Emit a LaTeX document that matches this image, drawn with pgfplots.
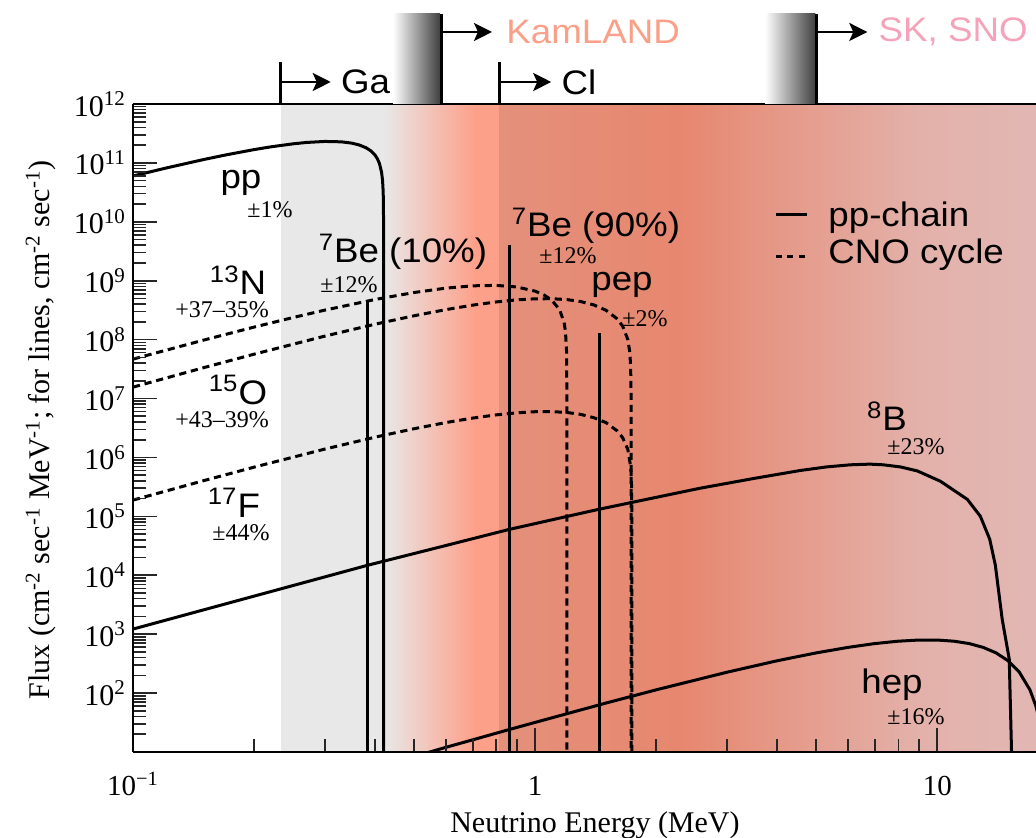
\documentclass[border=0pt]{standalone}
\usepackage{fontspec}
\setmainfont{Liberation Serif}
\newfontfamily\lsans{Liberation Sans}[FakeStretch=1.08]
\usepackage{pgfplots}
\pgfplotsset{compat=1.18}
\usetikzlibrary{arrows.meta,calc}

\definecolor{gabg}{HTML}{E8E8E8}
\definecolor{salmonA}{HTML}{FDA08A}
\definecolor{clA}{HTML}{E4907B}
\definecolor{clB}{HTML}{E7876F}
\definecolor{clC}{HTML}{E3B1AA}
\definecolor{clD}{HTML}{E2B7B3}
\definecolor{kamcol}{HTML}{FBA088}
\definecolor{skcol}{HTML}{F5A3BA}

\newcommand{\lab}{\lsans\fontsize{17}{20}\selectfont}
\newcommand{\err}{\fontsize{12}{14}\selectfont}
\newcommand{\tkx}{\fontsize{14.5}{17}\selectfont}
\newcommand{\tky}{\fontsize{15}{18}\selectfont}

\tikzset{
  spec/.style={black, line width=1.5pt},
  cno/.style={black, line width=1.5pt, dash pattern=on 3.6pt off 2.4pt},
  thr/.style={-{Stealth[length=9pt,width=9pt,inset=2pt]}, line width=1.2pt},
}

\begin{document}
\begin{tikzpicture}
\begin{axis}[
  name=ax,
  scale only axis, width=451.5pt, height=324pt,
  xmode=log, ymode=log,
  xmin=0.1, xmax=17.6, ymin=10, ymax=1e12,
  axis x line*=bottom, axis y line*=left,
  axis line style={line width=1.2pt},
  axis on top,
  tick align=inside,
  major tick length=12pt, minor tick length=6.5pt,
  every tick/.style={line width=0.8pt, black!85},
  xtick={0.1,1,10},
  xticklabels={{\tkx 10\textsuperscript{−1}},{\tkx 1},{\tkx 10}},
  minor xtick={0.2,0.3,0.4,0.5,0.6,0.7,0.8,0.9,2,3,4,5,6,7,8,9},
  ytick={1e2,1e3,1e4,1e5,1e6,1e7,1e8,1e9,1e10,1e11,1e12},
  yticklabels={{\tky 10\textsuperscript{2}},{\tky 10\textsuperscript{3}},{\tky 10\textsuperscript{4}},{\tky 10\textsuperscript{5}},{\tky 10\textsuperscript{6}},{\tky 10\textsuperscript{7}},{\tky 10\textsuperscript{8}},{\tky 10\textsuperscript{9}},{\tky 10\textsuperscript{10}},{\tky 10\textsuperscript{11}},{\tky 10\textsuperscript{12}}},
  minor ytick={2e1,3e1,4e1,5e1,6e1,7e1,8e1,9e1,
    2e2,3e2,4e2,5e2,6e2,7e2,8e2,9e2,
    2e3,3e3,4e3,5e3,6e3,7e3,8e3,9e3,
    2e4,3e4,4e4,5e4,6e4,7e4,8e4,9e4,
    2e5,3e5,4e5,5e5,6e5,7e5,8e5,9e5,
    2e6,3e6,4e6,5e6,6e6,7e6,8e6,9e6,
    2e7,3e7,4e7,5e7,6e7,7e7,8e7,9e7,
    2e8,3e8,4e8,5e8,6e8,7e8,8e8,9e8,
    2e9,3e9,4e9,5e9,6e9,7e9,8e9,9e9,
    2e10,3e10,4e10,5e10,6e10,7e10,8e10,9e10,
    2e11,3e11,4e11,5e11,6e11,7e11,8e11,9e11},
  xticklabel style={anchor=base, yshift=-22pt},
  xlabel={Neutrino Energy (MeV)},
  xlabel style={at={(axis description cs:0.5116,-0.1127)}, anchor=center, font=\fontsize{15}{18}\selectfont},
  ylabel={Flux (cm\textsuperscript{-2} sec\textsuperscript{-1} MeV\textsuperscript{-1}; for lines, cm\textsuperscript{-2} sec\textsuperscript{-1})},
  ylabel style={at={(axis description cs:-0.1019,0.497)}, anchor=center, font=\fontsize{15}{18}\selectfont},
]

% detector threshold bands
\fill[gabg] (axis cs:0.233,10) rectangle (axis cs:0.42,1e12);
\shade[left color=gabg, right color=salmonA] (axis cs:0.42,10) rectangle (axis cs:0.709,1e12);
\fill[salmonA] (axis cs:0.708,10) rectangle (axis cs:0.815,1e12);
\shade[left color=clA, right color=clB] (axis cs:0.814,10) rectangle (axis cs:2.29,1e12);
\shade[left color=clB, right color=clC] (axis cs:2.289,10) rectangle (axis cs:9.0,1e12);
\shade[left color=clC, right color=clD] (axis cs:8.99,10) rectangle (axis cs:17.6,1e12);

% pp chain continua
\addplot[spec] coordinates {(0.1,5.99e10) (0.12,8.09e10) (0.15,1.142e11) (0.17,1.364e11) (0.2,1.681e11) (0.22,1.871e11) (0.25,2.107e11) (0.27,2.223e11) (0.3,2.313e11) (0.33,2.278e11) (0.35,2.165e11) (0.365,2.019e11) (0.38,1.804e11) (0.39,1.608e11) (0.4,1.350e11) (0.405,1.184e11) (0.41,9.79e10) (0.415,7.00e10) (0.4175,4.98e10) (0.419,3.16e10) (0.4199,1.0e10) (0.42,1)};
\addplot[spec] coordinates {(0.1,1220) (0.2,4420) (0.3836,1.48e4) (0.6,3.2e4) (0.862,6.0e4) (1.442,1.32e5) (2.57,3.0e5) (3.5,4.4e5) (4.56,6.0e5) (5.3,6.9e5) (6.08,7.5e5) (6.8,7.7e5) (7.34,7.5e5) (8.1,6.9e5) (8.92,5.9e5) (10.17,3.96e5) (11.88,1.94e5) (12.8,1.0e5) (13.5,4.1e4) (13.94,1.5e4) (14.5,1.8e3) (15.1,377) (15.3,10) (15.32,1)};
\addplot[spec] coordinates {(0.5,8.4) (0.55,10.1) (0.6,12.0) (0.7,16.1) (0.85,23.4) (1,31.8) (1.5,67.7) (2,113.5) (3,226) (4,354) (5,481) (6,597) (7,693) (8,760) (9,795) (10,795) (11,760) (12,693) (13,597) (14,481) (15,354) (16,226) (17,113.5) (17.6,59.6) (18,31.8)};

% line sources
\addplot[spec] coordinates {(0.384,10) (0.384,4.5e8)};
\addplot[spec] coordinates {(0.862,10) (0.862,4.1e9)};
\addplot[spec] coordinates {(1.442,10) (1.442,1.3e8)};

% CNO cycle
\addplot[cno] coordinates {(0.1,4.67e7) (0.15,9.83e7) (0.2,1.631e8) (0.25,2.371e8) (0.3,3.169e8) (0.4,4.804e8) (0.5,6.304e8) (0.6,7.482e8) (0.7,8.192e8) (0.8,8.332e8) (0.9,7.835e8) (1.0,6.65e8) (1.05,5.775e8) (1.1,4.672e8) (1.15,3.224e8) (1.18,1.973e8) (1.19,1.349e8) (1.197,6.32e7) (1.1989,1.41e7) (1.199,1)};
\addplot[cno] coordinates {(0.1,1.561e7) (0.15,3.345e7) (0.2,5.657e7) (0.3,1.147e8) (0.4,1.828e8) (0.5,2.541e8) (0.6,3.233e8) (0.7,3.853e8) (0.8,4.362e8) (0.9,4.729e8) (1.0,4.930e8) (1.1,4.949e8) (1.2,4.779e8) (1.3,4.420e8) (1.4,3.877e8) (1.5,3.156e8) (1.6,2.249e8) (1.65,1.700e8) (1.7,1.009e8) (1.72,6.03e7) (1.728,3.45e7) (1.7315,1.21e7) (1.732,1)};
\addplot[cno] coordinates {(0.1,1.887e5) (0.15,4.04e5) (0.2,6.84e5) (0.3,1.387e6) (0.4,2.209e6) (0.5,3.073e6) (0.6,3.909e6) (0.7,4.660e6) (0.8,5.278e6) (0.9,5.724e6) (1.0,5.970e6) (1.1,5.999e6) (1.2,5.799e6) (1.3,5.371e6) (1.4,4.720e6) (1.5,3.906e6) (1.6,2.823e6) (1.65,2.174e6) (1.7,1.378e6) (1.73,6.65e5) (1.738,2.94e5) (1.7398,9.3e4) (1.74,1)};

% labels
\node[inner sep=0] at (rel axis cs:0.1196,0.878) {\lab pp};
\node[inner sep=0] at (rel axis cs:0.1517,0.8364) {\err ±1\%};
\node[inner sep=0] at (rel axis cs:0.299,0.7716) {\lab \textsuperscript{7}Be (10\%)};
\node[inner sep=0] at (rel axis cs:0.2392,0.7207) {\err ±12\%};
\node[inner sep=0] at (rel axis cs:0.5127,0.8117) {\lab \textsuperscript{7}Be (90\%)};
\node[inner sep=0] at (rel axis cs:0.4817,0.7654) {\err ±12\%};
\node[inner sep=0] at (rel axis cs:0.5415,0.7207) {\lab pep};
\node[inner sep=0] at (rel axis cs:0.567,0.6682) {\err ±2\%};
\node[inner sep=0] at (rel axis cs:0.1163,0.7284) {\lab \textsuperscript{13}N};
\node[inner sep=0] at (rel axis cs:0.0986,0.6821) {\err +37–35\%};
\node[inner sep=0] at (rel axis cs:0.1163,0.5586) {\lab \textsuperscript{15}O};
\node[inner sep=0] at (rel axis cs:0.0986,0.5123) {\err +43–39\%};
\node[inner sep=0] at (rel axis cs:0.1118,0.3843) {\lab \textsuperscript{17}F};
\node[inner sep=0] at (rel axis cs:0.1196,0.338) {\err ±44\%};
\node[inner sep=0] at (rel axis cs:0.835,0.5185) {\lab \textsuperscript{8}B};
\node[inner sep=0] at (rel axis cs:0.8671,0.4707) {\err ±23\%};
\node[inner sep=0] at (rel axis cs:0.8405,0.1034) {\lab hep};
\node[inner sep=0] at (rel axis cs:0.8671,0.054) {\err ±16\%};

% key
\draw[spec] (rel axis cs:0.712,0.8302) -- (rel axis cs:0.7464,0.8302);
\draw[black, line width=1.5pt, dash pattern=on 3pt off 2.7pt] (rel axis cs:0.712,0.7639) -- (rel axis cs:0.7464,0.7639);
\node[anchor=west, inner sep=0] at (rel axis cs:0.7697,0.824) {\lab pp-chain};
\node[anchor=west, inner sep=0] at (rel axis cs:0.7697,0.767) {\lab CNO cycle};

\coordinate (gaT) at (axis cs:0.233,1e12);
\coordinate (clT) at (axis cs:0.814,1e12);
\coordinate (kL) at (axis cs:0.4434,1e12);
\coordinate (kR) at (axis cs:0.59,1e12);
\coordinate (sL) at (axis cs:3.73,1e12);
\coordinate (sR) at (axis cs:5.06,1e12);
\end{axis}

% top frame line
\draw[line width=1.2pt] (ax.north west) -- (ax.north east);

% experiment thresholds
\draw[line width=1.3pt] (gaT) -- ++(0,21pt);
\draw[thr] ($(gaT)+(0,11pt)$) -- ++(25pt,0);
\node[anchor=west, inner sep=0] at ($(gaT)+(30pt,11pt)$) {\lab Ga};

\draw[line width=1.3pt] (clT) -- ++(0,21pt);
\draw[thr] ($(clT)+(0,11pt)$) -- ++(26pt,0);
\node[anchor=west, inner sep=0] at ($(clT)+(31pt,11pt)$) {\lab Cl};

\shade[left color=white, right color=black!75] (kL) rectangle ($(kR)+(-1.5pt,45pt)$);
\draw[line width=1.6pt] ($(kR)+(-0.8pt,0)$) -- ++(0,45pt);
\draw[thr] ($(kR)+(0,36pt)$) -- ++(24.5pt,0);
\node[anchor=west, inner sep=0, text=kamcol] at ($(kR)+(31.5pt,36pt)$) {\lab KamLAND};

\shade[left color=white, right color=black!75] (sL) rectangle ($(sR)+(-1.5pt,45pt)$);
\draw[line width=1.6pt] ($(sR)+(-0.8pt,0)$) -- ++(0,45pt);
\draw[thr] ($(sR)+(0,36pt)$) -- ++(24.5pt,0);
\node[anchor=west, inner sep=0, text=skcol] at ($(sR)+(30pt,36pt)$) {\lab SK, SNO};

\pgfresetboundingbox
\path[use as bounding box] ($(ax.south west)+(-66.5pt,-43pt)$) rectangle ($(ax.north east)+(0,52pt)$);
\end{tikzpicture}
\end{document}
